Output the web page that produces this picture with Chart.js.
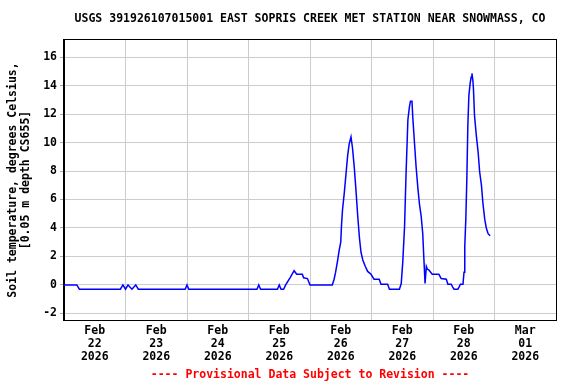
<!DOCTYPE html>
<html>
<head>
<meta charset="utf-8">
<script src="https://cdn.jsdelivr.net/npm/chart.js@4/dist/chart.umd.min.js"></script>
<style>
html, body { margin: 0; padding: 0; background: #fff; }
</style>
</head>
<body>
<canvas id="chart" width="576" height="384"></canvas>
<script>
// hours since Feb 22 2026 00:00 and soil temperature (deg C)
const hours = [0, 5, 6, 22, 23, 24, 25, 26.5, 28, 29, 47.3, 48, 48.7, 75.3, 76, 76.7, 83.3, 84, 84.7, 85.7,
  86.5, 88.2, 89.8, 90.8, 93, 93.5, 95, 96, 104.7, 105.4, 106, 106.8, 107.4, 108, 108.3, 108.7, 109.4, 110,
  110.7, 111.3, 112, 112.6, 113.3, 114, 114.6, 115.3, 115.9, 116.6, 117.6, 118.5, 119.8, 121, 123, 123.7,
  126.3, 127, 130.9, 131.6, 132.2, 132.9, 133.5, 134.2, 134.8, 135.2, 135.8, 136.1, 136.8, 137.4, 138.1,
  138.7, 139.4, 140, 140.4, 140.9, 141.4, 141.8, 142.4, 143.7, 146.3, 147.2, 149.2, 149.8, 151.1, 151.7,
  152.2, 153.7, 154.3, 154.7, 155.7, 156.1, 156.4, 156.8, 157.2, 157.6, 158, 158.5, 158.9, 159.2, 159.6,
  159.8, 160.2, 160.9, 161.6, 162.2, 162.9, 163.5, 164.2, 164.8, 165.5, 166.3];
const temps = [0, 0, -0.3, -0.3, 0, -0.3, 0, -0.3, 0, -0.3, -0.3, 0, -0.3, -0.3, 0, -0.3, -0.3, 0, -0.3, -0.3,
  0, 0.5, 1.0, 0.75, 0.75, 0.5, 0.45, 0, 0, 0.4, 0.9, 1.75, 2.45, 3.0, 4.2, 5.3, 6.5, 7.7,
  9.1, 9.9, 10.4, 9.6, 8.2, 6.5, 4.9, 3.3, 2.3, 1.75, 1.3, 0.95, 0.75, 0.4, 0.4, 0.05,
  0.05, -0.3, -0.3, 0.1, 1.6, 4.1, 7.9, 11.6, 12.5, 12.9, 12.9, 11.8, 9.9, 8.3, 6.8,
  5.7, 4.8, 3.6, 2.0, 0.1, 1.3, 1.1, 1.05, 0.75, 0.75, 0.45, 0.4, 0.05, 0.05, -0.15,
  -0.3, -0.3, -0.1, 0.05, 0.05, 0.9, 2.7, 4.6, 7.4, 11.2, 13.3, 14.15, 14.6, 14.85, 14.3,
  13.7, 11.9, 10.5, 9.35, 7.95, 7.0, 5.7, 4.6, 4.0, 3.6, 3.45];

const dayMonths = ['Feb', 'Feb', 'Feb', 'Feb', 'Feb', 'Feb', 'Feb', 'Mar'];
const dayNums = ['22', '23', '24', '25', '26', '27', '28', '01'];
const dayYears = ['2026', '2026', '2026', '2026', '2026', '2026', '2026', '2026'];
const yTicks = [-2, 0, 2, 4, 6, 8, 10, 12, 14, 16];

const titleText = 'USGS 391926107015001 EAST SOPRIS CREEK MET STATION NEAR SNOWMASS, CO';
const yTitle = ['Soil temperature, degrees Celsius,', '[0.05 m depth CS655]'];
const footerText = '---- Provisional Data Subject to Revision ----';

const FONT = '"DejaVu Sans Mono", "Liberation Mono", monospace';

const points = hours.map((h, i) => ({ x: h, y: temps[i] }));

// titles, frame and footer
const decor = {
    id: 'decor',
    afterDraw(chart) {
        const ctx = chart.ctx;
        const a = chart.chartArea;
        ctx.save();
        ctx.strokeStyle = '#000';
        ctx.lineWidth = 1;
        ctx.strokeRect(a.left - 0.5, a.top - 0.5, a.right - a.left + 1, a.bottom - a.top + 1);

        ctx.font = 'bold 11.5px ' + FONT;
        ctx.fillStyle = '#000';
        ctx.textAlign = 'center';
        ctx.textBaseline = 'middle';
        const cx = (a.left + a.right) / 2;
        ctx.fillText(titleText, cx, 19);

        ctx.fillStyle = '#ff0000';
        ctx.fillText(footerText, cx, 375);

        ctx.fillStyle = '#000';
        ctx.translate(13, (a.top + a.bottom) / 2);
        ctx.rotate(-Math.PI / 2);
        ctx.fillText(yTitle[0], 0, 0);
        ctx.fillText(yTitle[1], 0, 13);
        ctx.restore();
    }
};

new Chart(document.getElementById('chart'), {
    type: 'line',
    data: {
        datasets: [{
            data: points,
            borderColor: '#0000ff',
            borderWidth: 1.5,
            pointRadius: 0,
            tension: 0,
            fill: false
        }]
    },
    options: {
        responsive: false,
        animation: false,
        layout: { padding: { top: 40, right: 20, left: 0, bottom: 0 } },
        plugins: {
            legend: { display: false },
            tooltip: { enabled: false }
        },
        scales: {
            x: {
                type: 'linear',
                min: 0,
                max: 192,
                afterBuildTicks: (s) => {
                    s.ticks = [];
                    for (let v = 0; v <= 192; v += 12) s.ticks.push({ value: v });
                },
                afterFit: (s) => { s.height = 64; },
                grid: {
                    color: (c) => (c.tick && c.tick.value % 24 === 0) ? '#cccccc' : 'rgba(0,0,0,0)',
                    drawTicks: false
                },
                border: { color: '#000' },
                ticks: {
                    autoSkip: false,
                    maxRotation: 0,
                    padding: 4,
                    color: '#000',
                    font: { family: FONT, size: 11.5, weight: 'bold', lineHeight: 1.15 },
                    callback: (v) => {
                        if (v % 24 !== 12) return '';
                        const i = (v - 12) / 24;
                        return [dayMonths[i], dayNums[i], dayYears[i]];
                    }
                }
            },
            y: {
                min: -2.46,
                max: 17.2,
                afterBuildTicks: (s) => { s.ticks = yTicks.map(v => ({ value: v })); },
                afterFit: (s) => { s.width = 64; },
                grid: { color: '#cccccc', tickLength: 4, tickColor: '#aaaaaa' },
                border: { color: '#000' },
                ticks: {
                    padding: 3,
                    color: '#000',
                    font: { family: FONT, size: 11.5, weight: 'bold' }
                }
            }
        }
    },
    plugins: [decor]
});
</script>
</body>
</html>
